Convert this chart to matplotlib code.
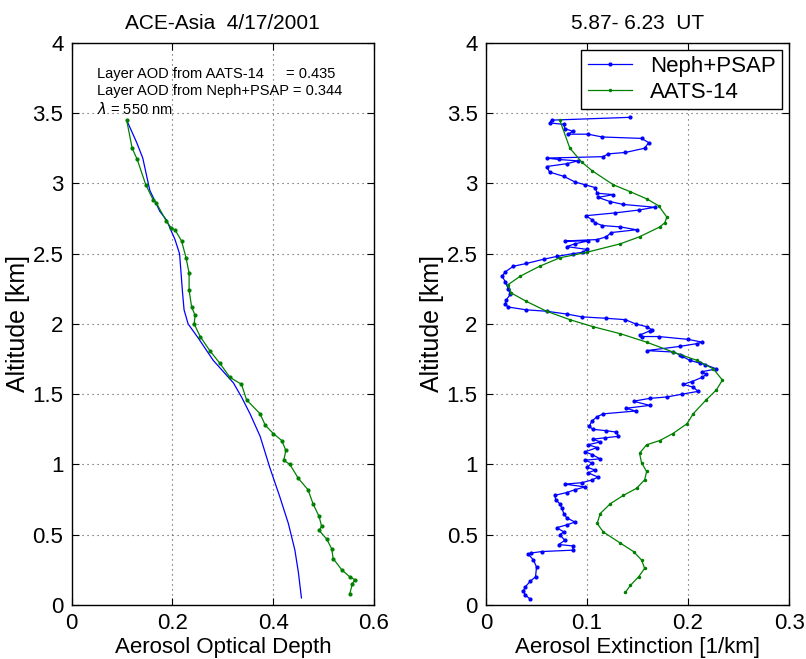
import numpy as np
import matplotlib
matplotlib.use('Agg')
from matplotlib import pyplot as plt

plt.rcParams['font.family'] = ['Liberation Sans', 'DejaVu Sans']

# left panel: layer AOD profiles
aats_aod = [0.109, 0.120, 0.130, 0.147, 0.162, 0.168, 0.188, 0.198, 0.205, 0.218, 0.227, 0.233,
            0.233, 0.238, 0.245, 0.243, 0.255, 0.274, 0.294, 0.314, 0.337, 0.347, 0.374, 0.384,
            0.400, 0.417, 0.425, 0.421, 0.433, 0.450, 0.469, 0.479, 0.491, 0.496, 0.491, 0.506,
            0.516, 0.519, 0.536, 0.552, 0.562, 0.557, 0.552]
aats_aod_alt = [3.45, 3.25, 3.17, 2.99, 2.88, 2.86, 2.73, 2.68, 2.67, 2.59, 2.47, 2.36,
                2.24, 2.12, 2.06, 2.00, 1.91, 1.81, 1.72, 1.62, 1.57, 1.46, 1.36, 1.28,
                1.22, 1.17, 1.10, 1.03, 1.00, 0.90, 0.82, 0.72, 0.63, 0.56, 0.53, 0.47,
                0.40, 0.33, 0.25, 0.20, 0.18, 0.15, 0.08]

neph_aod = [0.109, 0.129, 0.141, 0.155, 0.175, 0.188, 0.205, 0.214, 0.216, 0.220, 0.223, 0.231,
            0.251, 0.281, 0.321, 0.337, 0.354, 0.374, 0.393, 0.413, 0.430, 0.443, 0.450, 0.456]
neph_aod_alt = [3.45, 3.29, 3.18, 2.95, 2.80, 2.74, 2.60, 2.50, 2.41, 2.22, 2.10, 2.00,
                1.90, 1.74, 1.58, 1.48, 1.36, 1.20, 0.98, 0.77, 0.58, 0.39, 0.23, 0.05]

# right panel: extinction profiles
aats_ext = [0.073, 0.083, 0.095, 0.105, 0.126, 0.143, 0.159, 0.171, 0.179, 0.177, 0.172, 0.152,
            0.133, 0.100, 0.073, 0.053, 0.034, 0.022, 0.025, 0.040, 0.060, 0.083, 0.106, 0.133,
            0.159, 0.185, 0.209, 0.225, 0.234, 0.228, 0.218, 0.205, 0.199, 0.185, 0.172, 0.159,
            0.152, 0.154, 0.159, 0.157, 0.149, 0.136, 0.123, 0.113, 0.110, 0.116, 0.133, 0.146,
            0.154, 0.157, 0.151, 0.143, 0.138]
aats_ext_alt = [3.45, 3.25, 3.15, 3.09, 2.99, 2.94, 2.89, 2.84, 2.76, 2.72, 2.69, 2.62,
                2.57, 2.51, 2.47, 2.41, 2.34, 2.28, 2.22, 2.16, 2.09, 2.03, 1.98, 1.93,
                1.87, 1.80, 1.74, 1.68, 1.60, 1.53, 1.46, 1.36, 1.29, 1.22, 1.17, 1.14,
                1.08, 1.01, 0.95, 0.89, 0.83, 0.78, 0.72, 0.65, 0.58, 0.52, 0.44, 0.38,
                0.32, 0.26, 0.20, 0.14, 0.09]

neph_ext = [0.143, 0.065, 0.063, 0.077, 0.078, 0.086, 0.081, 0.101, 0.115, 0.154, 0.161, 0.157,
            0.138, 0.121, 0.116, 0.060, 0.072, 0.091, 0.080, 0.060, 0.063, 0.077, 0.088, 0.098,
            0.108, 0.110, 0.126, 0.111, 0.123, 0.136, 0.167, 0.151, 0.128, 0.099, 0.105, 0.108,
            0.115, 0.133, 0.149, 0.124, 0.119, 0.110, 0.078, 0.101, 0.088, 0.080, 0.100, 0.096,
            0.086, 0.070, 0.057, 0.040, 0.027, 0.019, 0.016, 0.019, 0.022, 0.024, 0.020, 0.019,
            0.022, 0.040, 0.060, 0.080, 0.095, 0.119, 0.138, 0.148, 0.159, 0.164, 0.162, 0.152,
            0.154, 0.171, 0.200, 0.214, 0.209, 0.192, 0.159, 0.185, 0.192, 0.194, 0.202, 0.212,
            0.217, 0.228, 0.214, 0.218, 0.214, 0.204, 0.195, 0.205, 0.210, 0.194, 0.179, 0.162,
            0.146, 0.162, 0.139, 0.148, 0.116, 0.110, 0.105, 0.102, 0.106, 0.119, 0.129, 0.131,
            0.118, 0.106, 0.113, 0.101, 0.110, 0.098, 0.105, 0.113, 0.098, 0.105, 0.100, 0.108,
            0.101, 0.111, 0.105, 0.095, 0.078, 0.098, 0.088, 0.080, 0.068, 0.069, 0.073, 0.075,
            0.077, 0.080, 0.088, 0.080, 0.070, 0.077, 0.073, 0.078, 0.072, 0.086, 0.086, 0.055,
            0.045, 0.042, 0.047, 0.050, 0.049, 0.044, 0.039, 0.037, 0.039, 0.044]
neph_ext_alt = [3.47, 3.45, 3.43, 3.42, 3.39, 3.37, 3.35, 3.35, 3.33, 3.32, 3.29, 3.25,
                3.22, 3.21, 3.19, 3.18, 3.17, 3.16, 3.14, 3.12, 3.08, 3.05, 3.01, 2.99,
                2.97, 2.93, 2.92, 2.90, 2.87, 2.85, 2.83, 2.81, 2.79, 2.77, 2.74, 2.72,
                2.70, 2.69, 2.67, 2.65, 2.62, 2.60, 2.59, 2.59, 2.57, 2.55, 2.53, 2.51,
                2.50, 2.48, 2.46, 2.43, 2.41, 2.37, 2.34, 2.30, 2.25, 2.21, 2.17, 2.14,
                2.12, 2.10, 2.09, 2.07, 2.05, 2.04, 2.03, 2.00, 1.98, 1.96, 1.95, 1.92,
                1.91, 1.91, 1.89, 1.87, 1.86, 1.84, 1.81, 1.80, 1.78, 1.77, 1.74, 1.72,
                1.71, 1.68, 1.66, 1.64, 1.62, 1.59, 1.57, 1.55, 1.52, 1.50, 1.48, 1.47,
                1.45, 1.42, 1.40, 1.38, 1.36, 1.34, 1.31, 1.27, 1.25, 1.24, 1.23, 1.20,
                1.19, 1.18, 1.16, 1.14, 1.12, 1.09, 1.07, 1.04, 1.03, 1.01, 0.98, 0.96,
                0.94, 0.91, 0.89, 0.87, 0.86, 0.84, 0.82, 0.80, 0.78, 0.75, 0.72, 0.69,
                0.65, 0.62, 0.59, 0.57, 0.55, 0.52, 0.50, 0.46, 0.43, 0.42, 0.39, 0.38,
                0.37, 0.36, 0.32, 0.27, 0.20, 0.17, 0.13, 0.10, 0.07, 0.04]

green = (0, 0.5, 0)

fig = plt.figure(figsize=(8.06, 6.59), dpi=100)
ax1 = fig.add_axes([0.089, 0.082, 0.375, 0.853])
ax2 = fig.add_axes([0.603, 0.082, 0.376, 0.853])

# left: AOD
ax1.plot(neph_aod, neph_aod_alt, '-', color='b', lw=0.9)
ax1.plot(aats_aod, aats_aod_alt, '-', color=green, lw=0.9, marker='.', markersize=4)
ax1.set_xlim(0, 0.6)
ax1.set_xticks([0, 0.2, 0.4, 0.6])
ax1.set_xticklabels(['0', '0.2', '0.4', '0.6'])
ax1.set_xlabel('Aerosol Optical Depth', fontsize=16, labelpad=2)
ax1.set_title('ACE-Asia  4/17/2001', fontsize=15, pad=10)
ax1.text(0.05, 3.78, 'Layer AOD from AATS-14', fontsize=10.5, va='center')
ax1.text(0.425, 3.78, '= 0.435', fontsize=10.5, va='center')
ax1.text(0.05, 3.66, 'Layer AOD from Neph+PSAP = 0.344', fontsize=10.5, va='center')
ax1.text(0.05, 3.53, r'$\lambda$ = 550 nm', fontsize=10.5, va='center')

# right: extinction
ax2.plot(neph_ext, neph_ext_alt, '-', color='b', lw=0.9, marker='.', markersize=4, label='Neph+PSAP')
ax2.plot(aats_ext, aats_ext_alt, '-', color=green, lw=0.9, marker='.', markersize=3, label='AATS-14')
ax2.set_xlim(0, 0.3)
ax2.set_xticks([0, 0.1, 0.2, 0.3])
ax2.set_xticklabels(['0', '0.1', '0.2', '0.3'])
ax2.set_xlabel('Aerosol Extinction [1/km]', fontsize=16, labelpad=2)
ax2.set_title('5.87- 6.23  UT', fontsize=15, pad=10)
leg = ax2.legend(loc='upper right', fontsize=16, fancybox=False, framealpha=1,
                 edgecolor='k', handlelength=2.0, handletextpad=0.8,
                 borderaxespad=0.3, borderpad=0.3, labelspacing=0.2)
leg.get_frame().set_linewidth(1.0)

for ax in (ax1, ax2):
    ax.set_ylim(0, 4)
    ax.set_yticks([0, 0.5, 1, 1.5, 2, 2.5, 3, 3.5, 4])
    ax.set_yticklabels(['0', '0.5', '1', '1.5', '2', '2.5', '3', '3.5', '4'])
    ax.set_ylabel('Altitude [km]', fontsize=18, labelpad=2)
    ax.grid(True, linestyle=(0, (1, 3.5)), color='0.3', lw=0.8)
    ax.tick_params(direction='in', top=True, right=True, labelsize=16, length=5, pad=6)
    for s in ax.spines.values():
        s.set_linewidth(1.0)

fig.savefig('out.png', dpi=100)
